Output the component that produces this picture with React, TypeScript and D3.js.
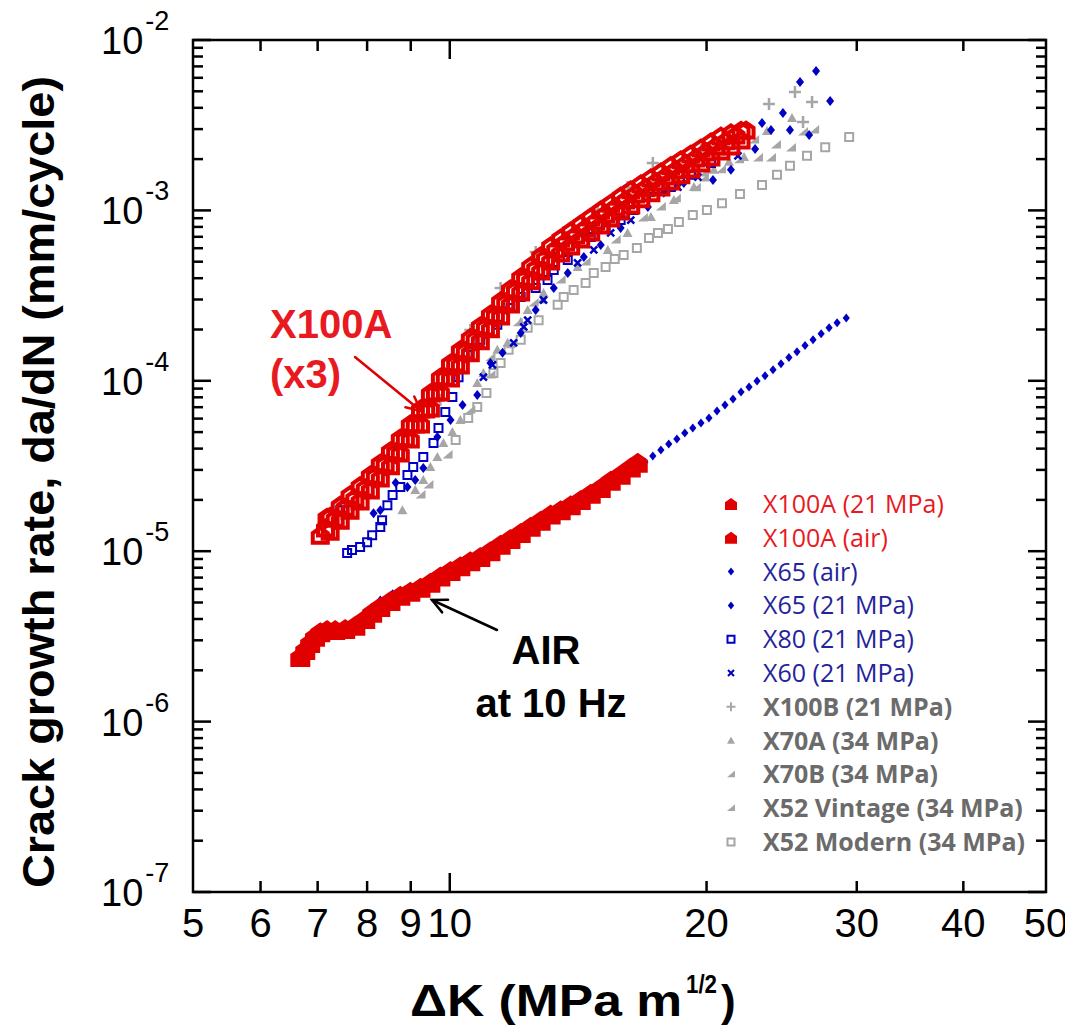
import React from 'react';
import * as d3 from 'd3';

const W = 1065;
const H = 1027;
const M = { left: 193, right: 1046, top: 40, bottom: 892 };

// axis ticks
const xTickLabels = [5, 6, 7, 8, 9, 10, 20, 30, 40, 50];
const xMajor = [10];
const xMinor = [6, 7, 8, 9, 20, 30, 40];
const yDecades = [-7, -6, -5, -4, -3, -2];

// [ΔK (MPa m^1/2), da/dN (mm/cycle)]
const x100a21TestA = [
  [7.05, 1.24e-5], [7.18, 1.58e-5],
  [7.15, 1.37e-5], [7.34, 1.56e-5], [7.54, 1.81e-5], [7.74, 2.05e-5], [7.96, 2.35e-5], [8.18, 2.77e-5],
  [8.40, 3.25e-5], [8.64, 3.83e-5], [8.87, 4.61e-5], [9.11, 5.58e-5], [9.37, 6.83e-5], [9.62, 8.59e-5],
  [9.88, 1.05e-4], [10.16, 1.27e-4], [10.43, 1.50e-4], [10.71, 1.76e-4], [11.01, 2.07e-4], [11.31, 2.43e-4],
  [11.63, 2.90e-4], [11.94, 3.41e-4], [12.27, 4.02e-4], [12.61, 4.59e-4], [12.95, 5.26e-4], [13.31, 5.94e-4],
  [13.67, 6.52e-4], [14.05, 7.17e-4], [14.43, 7.88e-4], [14.83, 8.66e-4], [15.23, 9.52e-4], [15.65, 1.047e-3],
  [16.08, 1.15e-3], [16.52, 1.25e-3], [16.98, 1.36e-3], [17.44, 1.47e-3], [17.92, 1.59e-3], [18.41, 1.73e-3],
  [18.91, 1.88e-3], [19.43, 2.03e-3], [19.97, 2.20e-3], [20.52, 2.39e-3], [21.07, 2.56e-3], [21.65, 2.77e-3],
  [22.25, 2.96e-3],
];
const x100a21TestB = [
  [7.24, 1.60e-5], [7.44, 1.86e-5], [7.64, 2.14e-5], [7.85, 2.42e-5], [8.07, 2.80e-5], [8.29, 3.29e-5],
  [8.52, 3.88e-5], [8.75, 4.61e-5], [8.99, 5.58e-5], [9.24, 6.83e-5], [9.49, 8.48e-5], [9.75, 1.05e-4],
  [10.02, 1.27e-4], [10.29, 1.52e-4], [10.57, 1.79e-4], [10.86, 2.10e-4], [11.16, 2.46e-4], [11.47, 2.94e-4],
  [11.78, 3.46e-4], [12.11, 4.07e-4], [12.44, 4.72e-4], [12.78, 5.40e-4], [13.13, 6.19e-4], [13.49, 6.88e-4],
  [13.86, 7.57e-4], [14.24, 8.32e-4], [14.63, 9.14e-4], [15.03, 1.005e-3], [15.44, 1.10e-3], [15.86, 1.21e-3],
  [16.30, 1.32e-3], [16.75, 1.43e-3], [17.21, 1.55e-3], [17.68, 1.68e-3], [18.16, 1.83e-3], [18.66, 1.98e-3],
  [19.17, 2.14e-3], [19.70, 2.32e-3], [20.24, 2.52e-3], [20.79, 2.73e-3], [21.36, 2.85e-3], [21.95, 2.95e-3],
];
const x100a21TestC = [
  [7.24, 1.31e-5], [7.44, 1.52e-5], [7.64, 1.74e-5], [7.85, 1.97e-5], [8.07, 2.29e-5], [8.29, 2.69e-5],
  [8.52, 3.17e-5], [8.75, 3.77e-5], [8.99, 4.55e-5], [9.24, 5.58e-5], [9.49, 6.92e-5], [9.75, 8.59e-5],
  [10.02, 1.04e-4], [10.29, 1.24e-4], [10.57, 1.46e-4], [10.86, 1.72e-4], [11.16, 2.02e-4], [11.47, 2.40e-4],
  [11.78, 2.82e-4], [12.11, 3.32e-4], [12.44, 3.86e-4], [12.78, 4.41e-4], [13.13, 5.05e-4], [13.49, 5.63e-4],
  [13.86, 6.19e-4], [14.24, 6.79e-4], [14.63, 7.47e-4], [15.03, 8.21e-4], [15.44, 9.02e-4], [15.86, 9.92e-4],
  [16.30, 1.075e-3], [16.75, 1.17e-3], [17.21, 1.27e-3], [17.68, 1.37e-3], [18.16, 1.49e-3], [18.66, 1.62e-3],
  [19.17, 1.75e-3], [19.70, 1.90e-3], [20.24, 2.06e-3], [20.79, 2.23e-3], [21.36, 2.39e-3], [21.95, 2.59e-3],
];
const x100aAir = [
  [6.68, 2.39e-6], [6.77, 2.63e-6], [6.86, 2.89e-6], [6.95, 3.15e-6], [7.05, 3.35e-6], [7.18, 3.45e-6],
  [7.34, 3.45e-6], [7.54, 3.50e-6], [7.75, 3.65e-6], [7.96, 4.00e-6], [8.11, 4.35e-6], [8.29, 4.71e-6],
  [8.52, 5.11e-6], [8.75, 5.48e-6], [8.99, 5.78e-6], [9.24, 6.10e-6], [9.49, 6.54e-6], [9.75, 7.10e-6],
  [10.02, 7.64e-6], [10.29, 8.17e-6], [10.57, 8.74e-6], [10.86, 9.24e-6], [11.16, 1.00e-5], [11.47, 1.09e-5],
  [11.78, 1.18e-5], [12.11, 1.28e-5], [12.44, 1.39e-5], [12.78, 1.51e-5], [13.13, 1.64e-5], [13.49, 1.74e-5],
  [13.86, 1.86e-5], [14.24, 2.00e-5], [14.63, 2.17e-5], [15.03, 2.35e-5], [15.44, 2.59e-5], [15.86, 2.81e-5],
  [16.30, 3.10e-5], [16.61, 3.30e-5],
];
const x65Air = [
  [8.29, 5.17e-6], [8.57, 5.62e-6], [8.85, 5.92e-6], [9.14, 6.24e-6], [9.44, 6.32e-6], [9.75, 6.99e-6],
  [10.07, 7.76e-6], [10.40, 8.88e-6], [10.74, 9.49e-6], [11.10, 1.03e-5], [11.47, 1.11e-5], [11.85, 1.21e-5],
  [12.24, 1.33e-5], [12.64, 1.46e-5], [13.06, 1.58e-5], [13.49, 1.74e-5], [13.93, 1.91e-5], [14.39, 2.07e-5],
  [14.87, 2.29e-5], [15.36, 2.48e-5], [15.86, 2.69e-5], [16.39, 3.00e-5], [16.93, 3.34e-5], [17.30, 3.62e-5],
  [17.68, 3.93e-5], [18.06, 4.26e-5], [18.46, 4.56e-5], [18.86, 4.94e-5], [19.27, 5.28e-5], [19.70, 5.65e-5],
  [20.13, 6.05e-5], [20.57, 6.64e-5], [21.02, 7.22e-5], [21.48, 7.83e-5], [21.95, 8.59e-5], [22.43, 9.19e-5],
  [22.92, 9.97e-5], [23.42, 1.07e-4], [23.93, 1.16e-4], [24.45, 1.26e-4], [24.98, 1.37e-4], [25.53, 1.48e-4],
  [26.09, 1.61e-4], [26.66, 1.74e-4], [27.25, 1.89e-4], [27.84, 2.05e-4], [28.45, 2.19e-4], [29.16, 2.34e-4],
];
const x6521 = [
  [8.14, 1.67e-5], [8.29, 1.74e-5], [8.64, 2.52e-5], [8.92, 2.38e-5], [9.11, 2.62e-5], [9.31, 3.08e-5],
  [9.67, 4.68e-5], [10.02, 5.89e-5], [10.35, 7.22e-5], [10.77, 8.26e-5], [11.16, 1.27e-4], [11.53, 1.46e-4],
  [12.11, 1.91e-4], [12.61, 2.60e-4], [13.24, 3.50e-4], [13.75, 4.29e-4], [14.36, 5.33e-4], [15.03, 6.27e-4],
  [15.86, 7.88e-4], [17.07, 1.047e-3], [17.82, 1.27e-3], [18.81, 1.45e-3], [20.35, 1.51e-3], [21.36, 1.73e-3],
  [22.80, 2.29e-3], [23.23, 3.26e-3], [23.80, 2.96e-3], [24.58, 3.73e-3], [25.05, 2.96e-3], [25.74, 5.66e-3],
  [26.38, 2.77e-3], [26.88, 6.58e-3], [27.92, 4.38e-3],
];
const x8021 = [
  [7.44, 1.74e-5], [7.58, 9.76e-6], [7.68, 1.016e-5], [7.85, 1.058e-5], [8.00, 1.13e-5], [8.11, 1.24e-5],
  [8.29, 1.385e-5], [8.33, 1.52e-5], [8.45, 1.86e-5], [8.57, 2.14e-5], [8.75, 2.38e-5], [8.92, 2.80e-5],
  [9.06, 3.12e-5], [9.31, 3.57e-5], [9.57, 4.31e-5], [9.70, 5.28e-5], [9.88, 6.56e-5], [10.07, 8.04e-5],
  [10.24, 1.05e-4], [10.49, 1.42e-4], [10.86, 1.74e-4], [11.37, 2.13e-4], [11.78, 2.67e-4], [12.11, 3.10e-4],
  [12.61, 3.50e-4], [13.02, 3.91e-4], [13.24, 4.47e-4], [13.75, 5.12e-4], [14.63, 6.98e-4], [15.23, 7.88e-4],
  [15.86, 8.78e-4], [16.43, 1.005e-3], [17.35, 1.20e-3], [18.16, 1.37e-3], [19.17, 1.62e-3], [20.24, 1.90e-3],
];
const x6021 = [
  [10.95, 1.05e-4], [11.22, 1.24e-4], [11.88, 1.67e-4], [12.21, 2.07e-4], [12.34, 2.27e-4], [12.88, 2.98e-4],
  [14.12, 4.92e-4], [14.75, 5.86e-4], [15.44, 7.37e-4], [16.30, 8.78e-4], [18.51, 1.37e-3], [19.54, 1.57e-3],
  [21.77, 2.09e-3],
];
const x100b21 = [
  [9.75, 7.72e-5], [10.57, 1.99e-4], [11.47, 3.50e-4], [12.61, 5.70e-4], [13.24, 6.70e-4], [13.60, 7.47e-4],
  [14.91, 1.005e-3], [16.16, 1.37e-3], [17.30, 1.90e-3], [19.70, 2.26e-3], [23.67, 4.21e-3], [25.39, 4.95e-3],
  [25.95, 3.30e-3], [26.59, 4.32e-3],
];
const x70a34 = [
  [8.80, 1.74e-5], [9.11, 2.29e-5], [9.31, 2.62e-5], [9.49, 3.12e-5], [9.67, 3.57e-5], [9.83, 4.31e-5],
  [10.07, 5.00e-5], [10.29, 5.89e-5], [10.77, 9.70e-5], [10.95, 1.11e-4], [11.37, 1.52e-4], [11.69, 1.67e-4],
  [12.11, 2.21e-4], [12.34, 2.60e-4], [12.88, 3.27e-4], [14.12, 4.66e-4], [15.32, 5.86e-4], [16.16, 7.37e-4],
  [17.21, 9.14e-4], [18.31, 1.15e-3], [19.33, 1.37e-3], [20.40, 1.73e-3], [21.25, 1.93e-3], [22.13, 2.06e-3],
  [23.54, 2.92e-3], [25.19, 3.48e-3],
];
const x70b34 = [
  [11.16, 1.37e-4], [12.01, 2.19e-4], [12.54, 2.86e-4], [16.84, 9.02e-4], [17.68, 1.047e-3], [18.41, 1.17e-3],
  [19.43, 1.36e-3], [19.86, 1.55e-3], [20.79, 1.73e-3], [21.83, 1.98e-3], [22.98, 2.03e-3], [23.80, 2.03e-3],
  [25.12, 2.32e-3], [25.95, 2.88e-3], [26.74, 2.96e-3],
];
const x52Vintage = [
  [9.24, 2.14e-5], [9.44, 2.45e-5], [9.94, 3.67e-5], [10.57, 6.74e-5], [11.16, 1.08e-4], [11.78, 1.63e-4],
  [12.78, 2.98e-4], [13.49, 3.91e-4], [14.43, 4.98e-4], [15.65, 6.70e-4], [19.86, 1.66e-3], [22.74, 2.59e-3],
  [24.12, 2.42e-3],
];
const x52Modern = [
  [10.16, 4.49e-5], [10.51, 6.05e-5], [10.77, 7.02e-5], [11.04, 8.48e-5], [11.25, 1.11e-4], [11.47, 1.27e-4],
  [11.72, 1.52e-4], [12.11, 1.74e-4], [12.34, 2.05e-4], [12.71, 2.27e-4], [13.38, 2.79e-4], [13.60, 3.10e-4],
  [13.97, 3.41e-4], [14.43, 3.75e-4], [14.75, 4.29e-4], [15.23, 4.66e-4], [15.61, 5.19e-4], [15.99, 5.48e-4],
  [16.57, 6.02e-4], [17.12, 6.88e-4], [17.54, 7.37e-4], [18.02, 7.77e-4], [18.56, 8.55e-4], [19.27, 9.39e-4],
  [20.02, 1.005e-3], [20.85, 1.10e-3], [21.89, 1.25e-3], [23.23, 1.41e-3], [24.19, 1.62e-3], [25.05, 1.83e-3],
  [26.23, 2.09e-3], [27.55, 2.35e-3], [29.39, 2.70e-3],
];

const RED = '#e00000';
const RED_TEXT = '#e8191f';
const BLUE = '#0000c4';
const BLUE_TEXT = '#24249a';
const GRAY = '#a6a6a6';
const GRAY_TEXT = '#6b6b6b';

const series = [
  { name: 'X52 Modern (34 MPa)', data: x52Modern, shape: 'square', color: GRAY, filled: false, r: 4, sw: 2, text: GRAY_TEXT, bold: true },
  { name: 'X52 Vintage (34 MPa)', data: x52Vintage, shape: 'wedge', color: GRAY, filled: true, r: 5, sw: 0, text: GRAY_TEXT, bold: true },
  { name: 'X70B (34 MPa)', data: x70b34, shape: 'wedge', color: GRAY, filled: true, r: 5, sw: 0, text: GRAY_TEXT, bold: true },
  { name: 'X70A (34 MPa)', data: x70a34, shape: 'tri', color: GRAY, filled: true, r: 5, sw: 0, text: GRAY_TEXT, bold: true },
  { name: 'X100B (21 MPa)', data: x100b21, shape: 'plus', color: GRAY, filled: false, r: 6, sw: 2.5, text: GRAY_TEXT, bold: true },
  { name: 'X60 (21 MPa)', data: x6021, shape: 'x', color: BLUE, filled: false, r: 3.5, sw: 2.5, text: BLUE_TEXT, bold: false },
  { name: 'X80 (21 MPa)', data: x8021, shape: 'square', color: BLUE, filled: false, r: 4, sw: 2, text: BLUE_TEXT, bold: false },
  { name: 'X65 (21 MPa)', data: x6521, shape: 'diamond', color: BLUE, filled: true, r: 5, sw: 0, text: BLUE_TEXT, bold: false },
  { name: 'X65 (air)', data: x65Air, shape: 'diamond', color: BLUE, filled: true, r: 4.5, sw: 0, text: BLUE_TEXT, bold: false },
  { name: 'X100A (air)', data: x100aAir, shape: 'house', color: RED, filled: true, r: 10, sw: 0, text: RED_TEXT, bold: false },
  {
    name: 'X100A (21 MPa)', data: [...x100a21TestC, ...x100a21TestB, ...x100a21TestA], shape: 'house', color: RED,
    filled: false, r: 7.5, sw: 4, text: RED_TEXT, bold: false,
  },
];

const legendOrder = [
  'X100A (21 MPa)', 'X100A (air)', 'X65 (air)', 'X65 (21 MPa)', 'X80 (21 MPa)', 'X60 (21 MPa)',
  'X100B (21 MPa)', 'X70A (34 MPa)', 'X70B (34 MPa)', 'X52 Vintage (34 MPa)', 'X52 Modern (34 MPa)',
];

const x = d3.scaleLog().domain([5, 50]).range([M.left, M.right]);
const y = d3.scaleLog().domain([1e-7, 1e-2]).range([M.bottom, M.top]);

function markerPath(shape, r) {
  switch (shape) {
    case 'house':
      return `M${-r},${r}L${-r},${-r * 0.3}L0,${-r}L${r},${-r * 0.3}L${r},${r}Z`;
    case 'square':
      return `M${-r},${-r}H${r}V${r}H${-r}Z`;
    case 'diamond':
      return `M0,${-r}L${r * 0.8},0L0,${r}L${-r * 0.8},0Z`;
    case 'x':
      return `M${-r},${-r}L${r},${r}M${-r},${r}L${r},${-r}`;
    case 'plus':
      return `M${-r},0H${r}M0,${-r}V${r}`;
    case 'tri':
      return `M0,${-r}L${r},${r * 0.8}L${-r},${r * 0.8}Z`;
    case 'wedge':
      return `M${r},${-r}L${r},${r * 0.7}L${-r},${r * 0.7}Z`;
    default:
      return '';
  }
}

function Marker({ s, cx, cy, r, forceFill = false }) {
  const filled = s.filled || forceFill;
  return (
    <path
      d={markerPath(s.shape, r ?? s.r)}
      transform={`translate(${cx},${cy})`}
      fill={filled ? s.color : 'none'}
      stroke={filled ? 'none' : s.color}
      strokeWidth={s.sw}
    />
  );
}

function Arrow({ x1, y1, x2, y2, color, width }) {
  const a = Math.atan2(y2 - y1, x2 - x1);
  const L = 16;
  const spread = 0.45;
  const h1 = [x2 - L * Math.cos(a - spread), y2 - L * Math.sin(a - spread)];
  const h2 = [x2 - L * Math.cos(a + spread), y2 - L * Math.sin(a + spread)];
  return (
    <g stroke={color} strokeWidth={width} fill="none" strokeLinecap="round">
      <line x1={x1} y1={y1} x2={x2} y2={y2} />
      <path d={`M${h1[0]},${h1[1]}L${x2},${y2}L${h2[0]},${h2[1]}`} />
    </g>
  );
}

// legend marker half-sizes
const legendR = {
  'X100A (21 MPa)': 6, 'X100A (air)': 6, 'X65 (air)': 4, 'X65 (21 MPa)': 4, 'X80 (21 MPa)': 3.5,
  'X60 (21 MPa)': 3, 'X100B (21 MPa)': 4.5, 'X70A (34 MPa)': 4, 'X70B (34 MPa)': 4,
  'X52 Vintage (34 MPa)': 4, 'X52 Modern (34 MPa)': 3.5,
};

export default function App() {
  const axisFont = '"Liberation Sans", Arial, sans-serif';
  const narrowFont = '"Liberation Sans Narrow", "Liberation Sans", Arial, sans-serif';
  const legendFont = '"Open Sans", "Noto Sans", sans-serif';

  const yMinor = [];
  yDecades.slice(0, -1).forEach((d) => {
    for (let m = 2; m <= 9; m++) yMinor.push(m * Math.pow(10, d));
  });

  return (
    <svg width={W} height={H} style={{ position: 'absolute', left: 0, top: 0, background: '#fff' }}>
      <rect width={W} height={H} fill="#fff" />

      {/* data */}
      {series.map((s) => (
        <g key={s.name}>
          {s.data.map((d, i) => (
            <Marker key={i} s={s} cx={x(d[0])} cy={y(d[1])} />
          ))}
        </g>
      ))}

      {/* frame and ticks */}
      <g stroke="#000" strokeWidth={2.5} fill="none">
        <rect x={M.left} y={M.top} width={M.right - M.left} height={M.bottom - M.top} />
        {yDecades.map((d) => (
          <g key={d}>
            <line x1={M.left} x2={M.left + 18} y1={y(Math.pow(10, d))} y2={y(Math.pow(10, d))} />
            <line x1={M.right} x2={M.right - 18} y1={y(Math.pow(10, d))} y2={y(Math.pow(10, d))} />
          </g>
        ))}
        {yMinor.map((v) => (
          <g key={v}>
            <line x1={M.left} x2={M.left + 10} y1={y(v)} y2={y(v)} />
            <line x1={M.right} x2={M.right - 10} y1={y(v)} y2={y(v)} />
          </g>
        ))}
        {xMajor.map((v) => (
          <g key={v}>
            <line x1={x(v)} x2={x(v)} y1={M.bottom} y2={M.bottom - 19} />
            <line x1={x(v)} x2={x(v)} y1={M.top} y2={M.top + 19} />
          </g>
        ))}
        {xMinor.map((v) => (
          <g key={v}>
            <line x1={x(v)} x2={x(v)} y1={M.bottom} y2={M.bottom - 11} />
            <line x1={x(v)} x2={x(v)} y1={M.top} y2={M.top + 11} />
          </g>
        ))}
      </g>

      {/* tick labels */}
      <g fontFamily={axisFont} fontSize={40} fill="#000">
        {xTickLabels.map((v) => (
          <text key={v} x={x(v)} y={937} textAnchor="middle">{v}</text>
        ))}
        {yDecades.map((d) => (
          <text key={d} x={101} y={y(Math.pow(10, d)) + 14} fontSize={38}>
            10<tspan dx={2} dy={-24} fontSize={27}>{d}</tspan>
          </text>
        ))}
      </g>

      {/* axis titles */}
      <text
        transform="translate(54,482) rotate(-90)"
        textAnchor="middle"
        fontFamily={narrowFont}
        fontWeight="bold"
        fontSize={44}
        textLength={812}
        lengthAdjust="spacingAndGlyphs"
      >
        Crack growth rate, da/dN (mm/cycle)
      </text>
      <g fontFamily={narrowFont} fontWeight="bold" fill="#000">
        <text x={410} y={1016} fontSize={44} textLength={272} lengthAdjust="spacingAndGlyphs">ΔK (MPa m</text>
        <text x={686} y={993} fontSize={26} textLength={31} lengthAdjust="spacingAndGlyphs">1/2</text>
        <text x={721} y={1016} fontSize={44}>)</text>
      </g>

      {/* annotations */}
      <g fontFamily={axisFont} fontWeight="bold">
        <text x={270} y={338} fontSize={40} fill={RED_TEXT}>X100A</text>
        <text x={270} y={388} fontSize={40} fill={RED_TEXT}>(x3)</text>
        <text x={546} y={664} fontSize={40} fill="#000" textAnchor="middle">AIR</text>
        <text x={551} y={717} fontSize={40} fill="#000" textAnchor="middle">at 10 Hz</text>
      </g>
      <Arrow x1={355} y1={357} x2={421} y2={411} color={RED} width={2.5} />
      <Arrow x1={497} y1={630} x2={432} y2={600} color="#000" width={2.5} />

      {/* legend */}
      <g fontFamily={legendFont} fontSize={25}>
        {legendOrder.map((name, i) => {
          const s = series.find((t) => t.name === name);
          const cy = 504 + i * 33.8;
          return (
            <g key={name}>
              <Marker s={{ ...s, sw: Math.min(s.sw, 2) }} cx={731} cy={cy} r={legendR[name]} forceFill={s.color === RED} />
              <text x={763} y={cy + 9} fill={s.text} fontWeight={s.bold ? 'bold' : 'normal'}>{name}</text>
            </g>
          );
        })}
      </g>
    </svg>
  );
}
